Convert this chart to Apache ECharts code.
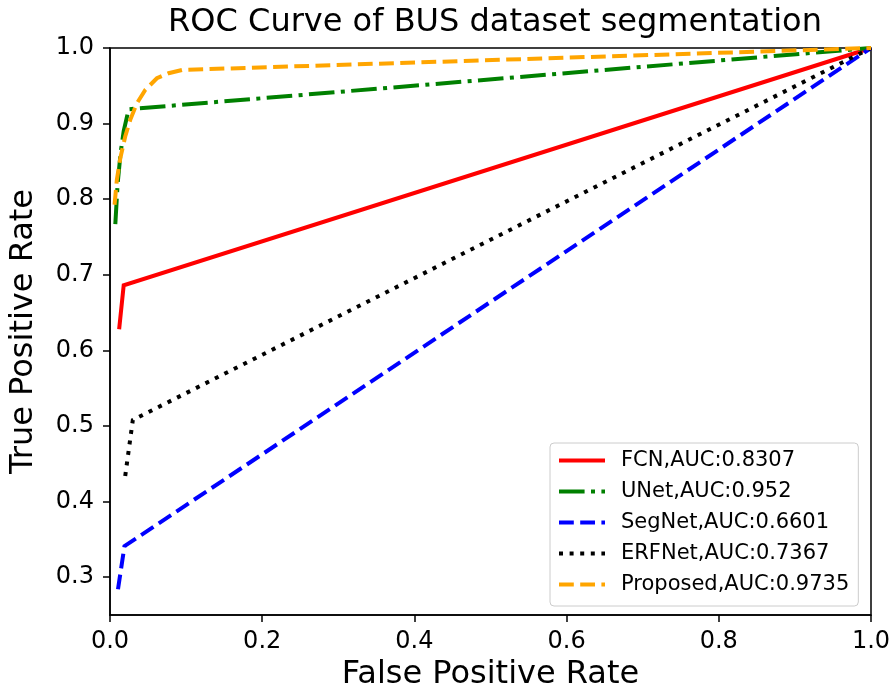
<!DOCTYPE html>
<html>
<head>
<meta charset="utf-8">
<script src="https://cdn.jsdelivr.net/npm/echarts@6/dist/echarts.min.js"></script>
<style>html,body{margin:0;padding:0;background:#fff}#c{width:894px;height:696px}</style>
</head>
<body>
<div id="c"></div>
<script>
// Data
const seriesNames = ['FCN,AUC:0.8307', 'UNet,AUC:0.952', 'SegNet,AUC:0.6601', 'ERFNet,AUC:0.7367', 'Proposed,AUC:0.9735'];
const fcnFPR = [0.012, 0.018, 1.0];
const fcnTPR = [0.628, 0.686, 1.0];
const unetFPR = [0.007, 0.010, 0.014, 0.018, 0.0245, 1.0];
const unetTPR = [0.767, 0.820, 0.862, 0.890, 0.919, 1.0];
const segnetFPR = [0.0105, 0.019, 1.0];
const segnetTPR = [0.284, 0.341, 1.0];
const erfnetFPR = [0.020, 0.030, 1.0];
const erfnetTPR = [0.434, 0.508, 1.0];
const propFPR = [0.006, 0.009, 0.0135, 0.020, 0.0266, 0.0354, 0.0463, 0.0616, 0.0769, 0.095, 1.0];
const propTPR = [0.7926, 0.8256, 0.854, 0.883, 0.905, 0.927, 0.9445, 0.960, 0.9666, 0.971, 1.0];
const xTicks = [0.0, 0.2, 0.4, 0.6, 0.8, 1.0];
const yTicks = [0.3, 0.4, 0.5, 0.6, 0.7, 0.8, 0.9, 1.0];

const zip = (a, b) => a.map((v, i) => [v, b[i]]);
const FONT = 'DejaVu Sans';
const LW = 4;

function mk(name, xs, ys, color, type) {
  return {
    name: name, type: 'line', data: zip(xs, ys), symbol: 'none', smooth: false,
    lineStyle: { color: color, width: LW, type: type, cap: 'butt', join: 'miter' },
    itemStyle: { color: color },
    clip: true, animation: false
  };
}

const chart = echarts.init(document.getElementById('c'), null, { renderer: 'canvas' });
chart.setOption({
  animation: false,
  backgroundColor: '#fff',
  title: {
    text: 'ROC Curve of BUS dataset segmentation',
    left: 490, top: 2, textAlign: 'center',
    textStyle: { fontFamily: FONT, fontSize: 32, fontWeight: 'normal', color: '#000' }
  },
  grid: { left: 108, top: 48, right: 23, bottom: 80, show: true, borderColor: '#000', borderWidth: 1.5, containLabel: false },
  legend: {
    orient: 'vertical', left: 550, top: 443,
    padding: [7, 9, 11, 7],
    itemWidth: 46, itemHeight: 14, itemGap: 10,
    backgroundColor: '#fff', borderColor: '#cccccc', borderWidth: 1, borderRadius: 4,
    itemStyle: { opacity: 0 },
    lineStyle: { width: 4 },
    textStyle: { fontFamily: FONT, fontSize: 21, color: '#000', lineHeight: 21, padding: [0, 0, 0, 11] },
    data: seriesNames
  },
  xAxis: {
    type: 'value', min: 0, max: 1, interval: 0.2,
    name: 'False Positive Rate', nameLocation: 'middle', nameGap: 44,
    nameTextStyle: { fontFamily: FONT, fontSize: 32, color: '#000' },
    axisLine: { show: true, onZero: false, lineStyle: { color: '#000', width: 1.5 } },
    axisTick: { show: true, inside: false, length: 7, lineStyle: { color: '#000', width: 1.5 }, customValues: xTicks },
    axisLabel: { fontFamily: FONT, fontSize: 24, color: '#000', margin: 15, customValues: xTicks, formatter: v => v.toFixed(1) },
    splitLine: { show: false }
  },
  yAxis: {
    type: 'value', min: 0.25, max: 1.0,
    name: 'True Positive Rate', nameLocation: 'middle', nameGap: 70, nameRotate: 90,
    nameTextStyle: { fontFamily: FONT, fontSize: 32, color: '#000' },
    axisLine: { show: true, onZero: false, lineStyle: { color: '#000', width: 1.5 } },
    axisTick: { show: true, inside: false, length: 7, lineStyle: { color: '#000', width: 1.5 }, customValues: yTicks },
    axisLabel: { fontFamily: FONT, fontSize: 24, color: '#000', margin: 16, customValues: yTicks, formatter: v => v.toFixed(1) },
    splitLine: { show: false }
  },
  series: [
    mk(seriesNames[0], fcnFPR, fcnTPR, '#ff0000', 'solid'),
    mk(seriesNames[1], unetFPR, unetTPR, '#008000', [25.6, 6.4, 4, 6.4]),
    mk(seriesNames[2], segnetFPR, segnetTPR, '#0000ff', [14.8, 6.4]),
    mk(seriesNames[3], erfnetFPR, erfnetTPR, '#000000', [4, 6.6]),
    mk(seriesNames[4], propFPR, propTPR, '#ffa500', [14.8, 6.4])
  ]
});
</script>
</body>
</html>
